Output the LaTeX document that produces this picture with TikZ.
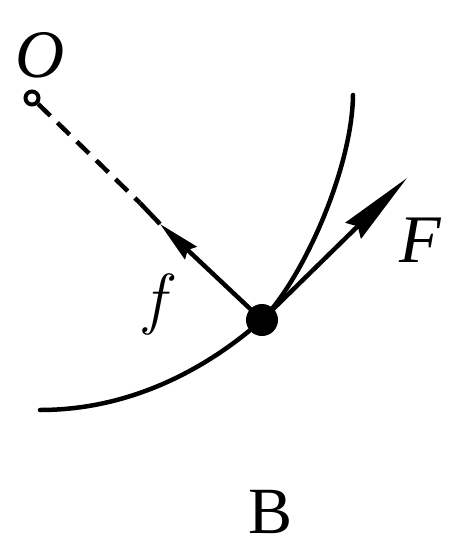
\documentclass[tikz,border=0pt]{standalone}
\usepackage{fontspec}
\setmainfont{Liberation Serif}
\newfontfamily\lmfam{Latin Modern Roman}
\usetikzlibrary{arrows.meta}
\begin{document}
\begin{tikzpicture}[x=1pt,y=-1pt,
  line/.style={line width=4.5pt},
  lbl/.style={inner sep=0pt, font=\fontsize{66}{78}\selectfont},
  ilbl/.style={lbl, font=\fontsize{68}{80}\selectfont\itshape},
  Fhead/.style={-{Stealth[length=75pt,width=22pt,inset=6pt]}},
  fhead/.style={-{Stealth[length=42pt,width=17pt,inset=4pt]}}]
\useasboundingbox (0,0) rectangle (448,548);
% path curve
\coordinate (cl) at (40,410);
\coordinate (ct) at (353,95);
\node[circle, fill=black, minimum size=32pt, inner sep=0pt] (ball) at (262,320) {};
\draw[line, line cap=round] (cl) .. controls (140,410) and (217,360) .. (ball.center)
  .. controls (302,280) and (352,170) .. (ct);
% O point
\node[circle, draw=black, fill=white, line width=4pt, minimum size=13pt, inner sep=0pt] (O) at (32,98) {};
\coordinate (fend) at (140,203);
\coordinate (ftip) at (160,224);
\draw[line, dash pattern=on 17pt off 10pt] (O) -- (fend);
\draw[line, fhead] (ball.center) -- (ftip);
\draw[line] (ftip) -- (fend);
% F arrow
\coordinate (Ftip) at (407,178);
\draw[line, Fhead] (ball.center) -- (Ftip);
% labels
\node[ilbl] (Olbl) at (40,55) {O};
\node[inner sep=0pt, font=\fontsize{68}{80}\selectfont\lmfam\itshape] (flbl) at (155,304) {f};
\node[ilbl] (Flbl) at (420,240) {F};
\node[lbl] (Blbl) at (271,512) {B};
\end{tikzpicture}
\end{document}
